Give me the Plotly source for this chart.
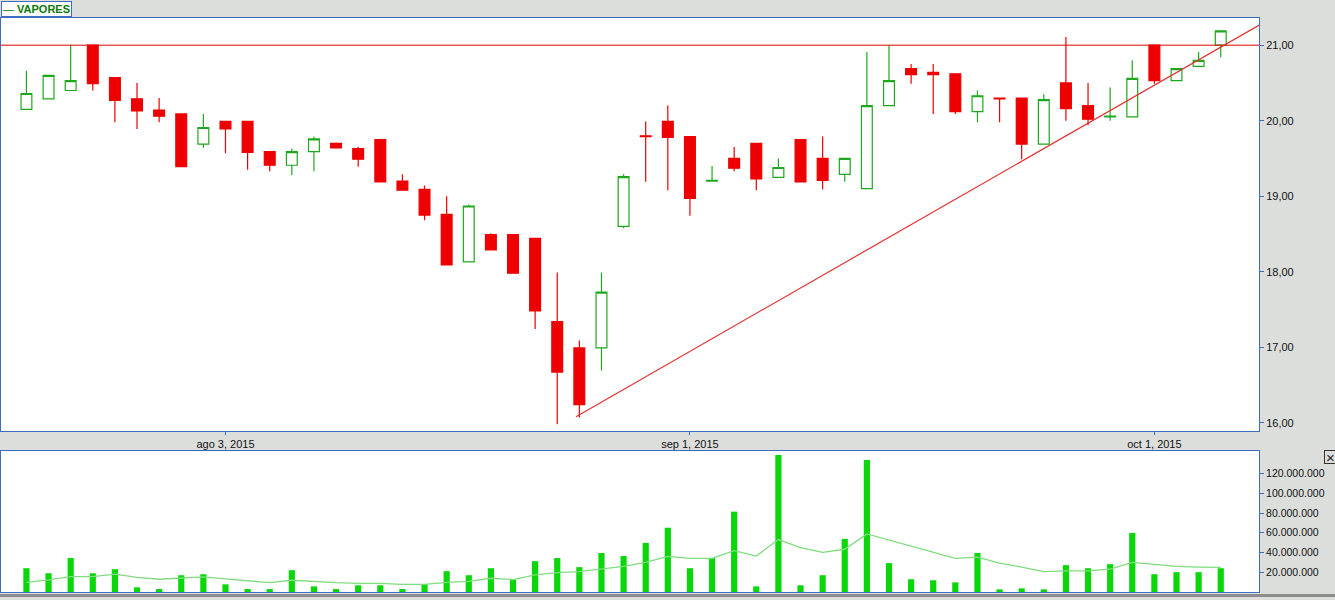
import plotly.graph_objs as go

# Datos diarios VAPORES (jul - oct 2015)
fechas = [
    '2015-07-21', '2015-07-22', '2015-07-23', '2015-07-24', '2015-07-27',
    '2015-07-28', '2015-07-29', '2015-07-30', '2015-07-31',
    '2015-08-03', '2015-08-04', '2015-08-05', '2015-08-06', '2015-08-07',
    '2015-08-10', '2015-08-11', '2015-08-12', '2015-08-13', '2015-08-14',
    '2015-08-17', '2015-08-18', '2015-08-19', '2015-08-20', '2015-08-21',
    '2015-08-24', '2015-08-25', '2015-08-26', '2015-08-27', '2015-08-28',
    '2015-08-31',
    '2015-09-01', '2015-09-02', '2015-09-03', '2015-09-04',
    '2015-09-07', '2015-09-08', '2015-09-09', '2015-09-10', '2015-09-11',
    '2015-09-14', '2015-09-15', '2015-09-16', '2015-09-17',
    '2015-09-21', '2015-09-22', '2015-09-23', '2015-09-24', '2015-09-25',
    '2015-09-28', '2015-09-29', '2015-09-30',
    '2015-10-01', '2015-10-02', '2015-10-05', '2015-10-06',
]

apertura = [
    20.15, 20.29, 20.40, 21.00, 20.57, 20.29, 20.14, 20.09, 19.69, 19.99,
    19.99, 19.59, 19.41, 19.59, 19.70, 19.63, 19.75, 19.20, 19.09, 18.76,
    18.13, 18.49, 18.49, 18.44, 17.34, 16.99, 16.99, 18.60, 19.80, 19.99,
    19.79, 19.20, 19.50, 19.70, 19.25, 19.75, 19.50, 19.29, 19.10, 20.20,
    20.69, 20.64, 20.62, 20.12, 20.30, 20.30, 19.69, 20.50, 20.20, 20.05,
    20.05, 21.00, 20.53, 20.72, 21.00,
]
maximo = [
    20.66, 20.60, 21.00, 21.00, 20.57, 20.50, 20.30, 20.09, 20.09, 19.99,
    19.99, 19.59, 19.63, 19.79, 19.71, 19.65, 19.75, 19.29, 19.14, 19.00,
    18.89, 18.51, 18.49, 18.44, 17.99, 17.09, 17.99, 19.29, 19.99, 20.20,
    19.79, 19.40, 19.65, 19.70, 19.50, 19.75, 19.79, 19.50, 20.91, 21.00,
    20.75, 20.75, 20.62, 20.40, 20.30, 20.30, 20.35, 21.11, 20.50, 20.44,
    20.80, 21.00, 20.69, 20.91, 21.19,
]
minimo = [
    20.15, 20.29, 20.40, 20.40, 19.98, 19.89, 19.98, 19.39, 19.64, 19.57,
    19.35, 19.33, 19.28, 19.33, 19.64, 19.39, 19.19, 19.08, 18.68, 18.09,
    18.13, 18.29, 17.98, 17.24, 15.98, 16.07, 16.69, 18.58, 19.19, 19.08,
    18.74, 19.20, 19.33, 19.08, 19.25, 19.19, 19.09, 19.19, 19.10, 20.20,
    20.49, 20.09, 20.09, 19.98, 19.98, 19.49, 19.69, 20.00, 19.94, 20.00,
    20.05, 20.49, 20.53, 20.72, 20.84,
]
cierre = [
    20.36, 20.60, 20.53, 20.49, 20.27, 20.13, 20.06, 19.39, 19.91, 19.89,
    19.58, 19.41, 19.59, 19.76, 19.64, 19.49, 19.19, 19.08, 18.75, 18.09,
    18.87, 18.29, 17.98, 17.48, 16.67, 16.24, 17.73, 19.26, 19.79, 19.78,
    18.97, 19.21, 19.37, 19.23, 19.38, 19.19, 19.21, 19.50, 20.20, 20.53,
    20.61, 20.61, 20.12, 20.33, 20.29, 19.69, 20.28, 20.16, 20.02, 20.06,
    20.56, 20.53, 20.69, 20.80, 21.19,
]

# volumen en millones de acciones
volumen = [
    24.1, 19.0, 34.4, 19.0, 23.1, 4.7, 3.0, 17.0, 18.0, 7.8,
    3.0, 3.0, 22.1, 5.7, 3.0, 6.8, 6.8, 3.0, 7.8, 21.1,
    17.0, 24.1, 12.9, 31.3, 34.4, 25.2, 39.5, 36.4, 49.7, 65.1,
    24.1, 34.4, 81.4, 5.7, 138.7, 6.8, 17.0, 53.8, 133.6, 29.3,
    12.9, 11.9, 9.8, 39.5, 2.7, 3.7, 2.7, 27.2, 24.1, 28.2,
    59.9, 18.0, 20.1, 20.1, 24.1,
]
media_volumen = [
    9.8, 12.2, 15.6, 15.6, 18.0, 14.9, 12.9, 13.9, 15.3, 13.2,
    11.5, 9.5, 11.9, 10.5, 9.5, 8.8, 8.8, 7.8, 7.8, 9.8,
    10.8, 13.9, 12.6, 17.3, 19.7, 20.7, 23.4, 25.9, 30.0, 36.1,
    34.0, 34.0, 41.9, 36.4, 53.1, 44.9, 40.2, 43.3, 58.9, 52.8,
    46.3, 40.2, 34.0, 35.4, 29.3, 25.2, 20.7, 21.4, 21.4, 23.1,
    30.0, 27.9, 25.9, 25.2, 24.9,
]

ticks_fechas = ['2015-08-03', '2015-09-01', '2015-10-01']
ticks_texto = ['ago 3, 2015', 'sep 1, 2015', 'oct 1, 2015']

precio_ticks = [16, 17, 18, 19, 20, 21]
volumen_ticks = [20, 40, 60, 80, 100, 120]

resistencia = 21.00
# linea de tendencia (indice de vela, precio)
tendencia_x = [24.85, 56.3]
tendencia_y = [16.08, 21.36]

azul = '#3d6cc0'
fonte = 'Liberation Sans'

fig = go.Figure()

fig.add_trace(
    go.Candlestick(
        x=fechas,
        open=apertura,
        high=maximo,
        low=minimo,
        close=cierre,
        name='VAPORES',
        xaxis='x',
        yaxis='y',
        increasing=dict(line=dict(color='#1fa81f', width=1.2), fillcolor='white'),
        decreasing=dict(line=dict(color='#ee0000', width=1.2), fillcolor='#ee0000'),
        whiskerwidth=0,
        showlegend=False,
    )
)

fig.add_trace(
    go.Bar(
        x=fechas,
        y=[v * 1e6 for v in volumen],
        xaxis='x2',
        yaxis='y2',
        width=0.28,
        marker=dict(color='#0ad70a', line=dict(width=0)),
        showlegend=False,
    )
)

fig.add_trace(
    go.Scatter(
        x=fechas,
        y=[v * 1e6 for v in media_volumen],
        xaxis='x2',
        yaxis='y2',
        mode='lines',
        line=dict(color='#7fdc7f', width=1.3),
        showlegend=False,
    )
)

fig.update_layout(
    width=1335,
    height=600,
    margin=dict(l=1, r=76, t=18, b=8, autoexpand=False),
    paper_bgcolor='#dcdedc',
    plot_bgcolor='white',
    separators=',.',
    font=dict(family=fonte, size=10, color='#111111'),
    showlegend=False,
    xaxis=dict(
        type='category',
        domain=[0, 1],
        anchor='y',
        range=[-1.15, 55.73],
        rangeslider=dict(visible=False),
        tickvals=ticks_fechas,
        ticktext=ticks_texto,
        ticks='outside',
        ticklen=3,
        tickcolor=azul,
        tickfont=dict(size=11),
        showgrid=False,
        showline=True,
        mirror=True,
        linecolor=azul,
        linewidth=1,
        zeroline=False,
        automargin=False,
    ),
    yaxis=dict(
        domain=[0.2805, 1],
        anchor='x',
        side='right',
        range=[15.89, 21.36],
        tickvals=precio_ticks,
        tickformat=',.2f',
        ticks='outside',
        ticklen=4,
        tickcolor=azul,
        tickfont=dict(size=11),
        showgrid=False,
        showline=True,
        mirror=True,
        linecolor=azul,
        linewidth=1,
        zeroline=False,
        automargin=False,
    ),
    xaxis2=dict(
        type='category',
        domain=[0, 1],
        anchor='y2',
        matches='x',
        showticklabels=False,
        ticks='',
        showgrid=False,
        showline=True,
        mirror=True,
        linecolor=azul,
        linewidth=1,
        zeroline=False,
        automargin=False,
    ),
    yaxis2=dict(
        domain=[0, 0.2456],
        anchor='x2',
        side='right',
        range=[0, 142.8e6],
        tickvals=[v * 1e6 for v in volumen_ticks],
        tickformat=',d',
        ticks='outside',
        ticklen=4,
        tickcolor=azul,
        tickfont=dict(size=10.5),
        showgrid=False,
        showline=True,
        mirror=True,
        linecolor=azul,
        linewidth=1,
        zeroline=False,
        automargin=False,
    ),
    shapes=[
        dict(
            type='line', xref='x domain', yref='y',
            x0=0, x1=1, y0=resistencia, y1=resistencia,
            line=dict(color='#dd0000', width=1),
        ),
        dict(
            type='line', xref='x', yref='y',
            x0=tendencia_x[0], x1=tendencia_x[1],
            y0=tendencia_y[0], y1=tendencia_y[1],
            line=dict(color='#e53030', width=1.2),
        ),
        # franja gris inferior de la ventana
        dict(
            type='rect', xref='paper', yref='paper',
            x0=-0.01, x1=1.07,
            ysizemode='pixel', yanchor=0, y0=-2, y1=-5,
            fillcolor='#8c8c8c', line=dict(width=0),
        ),
    ],
    annotations=[
        dict(
            text='— <b>VAPORES</b>',
            xref='paper', yref='paper', x=0, y=1,
            xanchor='left', yanchor='bottom', yshift=1,
            showarrow=False,
            font=dict(family=fonte, size=11, color='#087a08'),
            bgcolor='white', bordercolor=azul, borderwidth=1, borderpad=1,
        ),
        dict(
            text='×',
            xref='paper', yref='paper', x=1, y=0.2456,
            xanchor='left', yanchor='top', xshift=65, yshift=1,
            width=11, height=12, align='center', valign='middle',
            showarrow=False,
            font=dict(family=fonte, size=15, color='#222222'),
            bordercolor='#333333', borderwidth=1, borderpad=0,
        ),
    ],
)

# la pagina trae margen de 8px en el body, se quita para que calce 1335x600
fig.write_html(
    'out.html',
    config=dict(displayModeBar=False),
    post_script="document.body.style.margin='0';",
)
